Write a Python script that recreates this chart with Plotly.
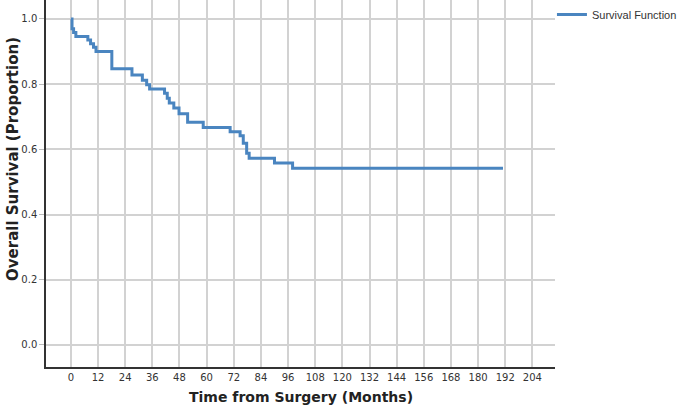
import plotly.graph_objects as go

# Kaplan-Meier step data: event time (months) and survival after the event
times = [0, 0.5, 1.2, 2.2, 7.5, 8.7, 10.0, 11.1, 18.1, 27.0, 31.6, 33.5, 34.8,
         41.4, 42.6, 43.5, 45.5, 47.8, 51.6, 58.5, 70.4, 74.8, 76.2, 77.7,
         78.8, 90.0, 98.0, 191.0]
survival = [1.0, 0.970, 0.958, 0.946, 0.935, 0.924, 0.913, 0.900, 0.847, 0.828,
            0.812, 0.798, 0.785, 0.772, 0.757, 0.742, 0.727, 0.709, 0.683,
            0.667, 0.654, 0.642, 0.619, 0.588, 0.573, 0.558, 0.542, 0.542]

x_ticks = list(range(0, 205, 12))
y_ticks = [0.0, 0.2, 0.4, 0.6, 0.8, 1.0]
y_tick_labels = ["0.0", "0.2", "0.4", "0.6", "0.8", "1.0"]

x_title = "Time from Surgery (Months)"
y_title = "Overall Survival (Proportion)"
series_name = "Survival Function"

line_color = "#4a85c0"
grid_color = "#d2d2d2"
font_family = "DejaVu Sans"

fig = go.Figure()
fig.add_trace(go.Scatter(
    x=times, y=survival, mode="lines", name=series_name,
    line=dict(color=line_color, width=3, shape="hv"),
))

fig.update_layout(
    width=685, height=407,
    margin=dict(l=46, r=130, t=0, b=40, autoexpand=False),
    plot_bgcolor="white", paper_bgcolor="white",
    font=dict(family=font_family, color="#333333"),
    showlegend=True,
    legend=dict(x=0.994, y=1.0, xanchor="left", yanchor="top",
                font=dict(size=11, color="#333333", family="Liberation Sans"),
                bgcolor="rgba(0,0,0,0)", itemwidth=30),
    xaxis=dict(
        range=[-11, 214], tickmode="array", tickvals=x_ticks,
        ticktext=[str(v) for v in x_ticks], automargin=False,
        showgrid=True, gridcolor=grid_color, gridwidth=1.5,
        zeroline=False, showline=True, linecolor="#333333", linewidth=1.5,
        ticks="", tickfont=dict(size=10, color="#333333", family=font_family),
    ),
    yaxis=dict(
        range=[-0.0675, 1.058], tickmode="array", tickvals=y_ticks,
        ticktext=y_tick_labels, automargin=False,
        showgrid=True, gridcolor=grid_color, gridwidth=1.5,
        zeroline=False, showline=True, linecolor="#333333", linewidth=1.5,
        ticks="outside", ticklen=5, tickcolor="#bbbbbb",
        tickfont=dict(size=10, color="#333333", family=font_family),
    ),
    annotations=[
        dict(text="<b>" + x_title + "</b>", xref="paper", yref="paper",
             x=0.5, y=-0.0817, xanchor="center", yanchor="middle",
             showarrow=False, font=dict(size=14, color="#222222", family=font_family)),
        dict(text="<b>" + y_title + "</b>", xref="paper", yref="paper",
             x=-0.0648, y=0.567, xanchor="center", yanchor="middle", textangle=-90,
             showarrow=False, font=dict(size=15, color="#222222", family=font_family)),
    ],
)

fig.write_html("out.html", config={"displayModeBar": False},
               post_script="document.body.style.margin='0px';")
